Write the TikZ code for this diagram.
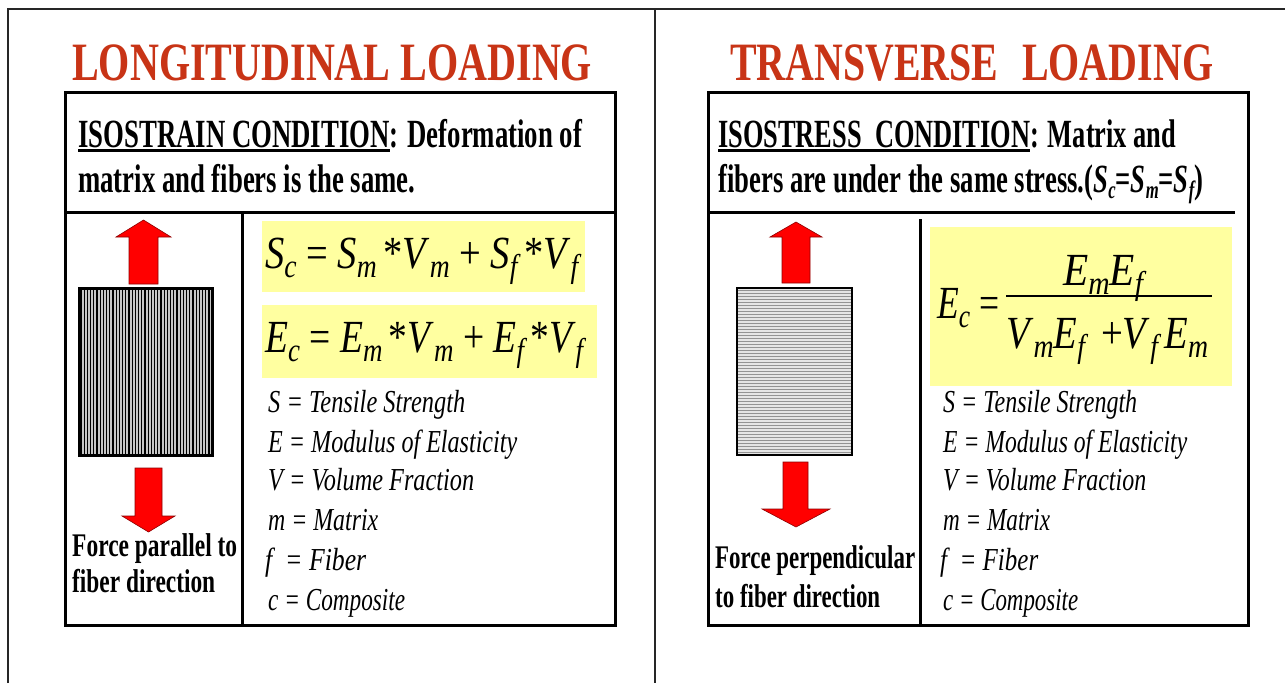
\documentclass[tikz,border=0pt]{standalone}
\usepackage{fontspec}
\setmainfont{Liberation Serif}
\usepackage{graphicx}
\definecolor{titlered}{RGB}{200,52,22}
\definecolor{eqyellow}{RGB}{255,255,160}
\definecolor{arrred}{RGB}{255,0,0}
\newsavebox\fitbx
\newsavebox\ulbox
\makeatletter
\newcommand\fitw[2]{\sbox\fitbx{#2}\dimen@=\wd\fitbx\pgfmathsetmacro\fitr{#1/\strip@pt\dimen@}\scalebox{\fitr}[1]{\usebox\fitbx}}
\makeatother
\newcommand\ulx[1]{\sbox\ulbox{#1}\rlap{\rule[-4.5pt]{\wd\ulbox}{2.4pt}}\usebox\ulbox}
\newcommand\sbe[1]{\raisebox{-9pt}{\fontsize{33}{33}\selectfont\itshape #1}}
\newcommand\sbh[1]{\raisebox{-6pt}{\fontsize{25}{25}\selectfont\itshape #1}}
\tikzset{
  ttl/.style={anchor=base west, inner sep=0pt, text=titlered, font=\fontsize{54}{54}\selectfont\bfseries},
  hdr/.style={anchor=base west, inner sep=0pt, font=\fontsize{40}{40}\selectfont\bfseries},
  frc/.style={anchor=base west, inner sep=0pt, font=\fontsize{33}{33}\selectfont\bfseries},
  leg/.style={anchor=base west, inner sep=0pt, font=\fontsize{32}{32}\selectfont\itshape},
  eqn/.style={anchor=base west, inner sep=0pt, font=\fontsize{46}{46}\selectfont},
  outer/.style={line width=2pt, black!85},
  frame/.style={line width=3pt, black},
  ybox/.style={fill=eqyellow, draw=none},
  blockarrow/.style={fill=arrred, draw=red!55!black, line width=0.6pt, line join=miter},
}
\begin{document}
\begin{tikzpicture}[x=1pt,y=-1pt]
\useasboundingbox (0,0) rectangle (1285,683);
% outer table lines
\draw[outer] (8,683) -- (8,9) -- (1285,9);
\draw[outer] (655,9) -- (655,683);

% ================= LEFT PANEL =================
\node[ttl] (ltitle) at (72,80) {\fitw{520}{LONGITUDINAL LOADING}};
\draw[frame] (65,92) rectangle (615,625);
\draw[frame] (65,212) -- (615,212);
\draw[frame] (242,212) -- (242,625);
\node[hdr] (lh1) at (78,147) {\fitw{504}{\ulx{ISOSTRAIN CONDITION}: Deformation of}};
\node[hdr] (lh2) at (78,192) {\fitw{337}{matrix and fibers is the same.}};

% arrows and fibre block
\draw[blockarrow] (143.5,220) -- (171,237) -- (158,237) -- (158,284) -- (129,284) -- (129,237) -- (116,237) -- cycle;
\fill[gray!45] (79,288) rectangle (212,455);
\foreach \x in {81,84.2,...,211} \draw[black, line width=1.3pt] (\x,288) -- (\x,455);
\draw[line width=3pt] (79,288) rectangle (212,455);
\draw[blockarrow] (148.5,532) -- (175,516) -- (162,516) -- (162,468) -- (135,468) -- (135,516) -- (122,516) -- cycle;
\node[frc] (lf1) at (72,556) {\fitw{165}{Force parallel to}};
\node[frc] (lf2) at (72,592) {\fitw{143}{fiber direction}};

% equations
\fill[ybox] (262,221) rectangle (585,292);
\fill[ybox] (262,305) rectangle (597,378);
\node[eqn] (leq1) at (265,268) {\fitw{313}{\textit{S}\sbe{c} = \textit{S}\sbe{m}\,*\textit{V}\sbe{m} + \textit{S}\sbe{f}\,*\textit{V}\sbe{f}}};
\node[eqn] (leq2) at (265,352) {\fitw{318}{\textit{E}\sbe{c} = \textit{E}\sbe{m}\,*\textit{V}\sbe{m} + \textit{E}\sbe{f}\,*\textit{V}\sbe{f}}};

% legend
\node[leg] (ll1) at (268,412) {\fitw{197}{S = Tensile Strength}};
\node[leg] (ll2) at (268,452) {\fitw{249}{E = Modulus of Elasticity}};
\node[leg] (ll3) at (268,490) {\fitw{206}{V = Volume Fraction}};
\node[leg] (ll4) at (268,530) {\fitw{110}{m = Matrix}};
\node[leg] (ll5) at (265,570) {\fitw{101}{f\ \ = Fiber}};
\node[leg] (ll6) at (268,610) {\fitw{137}{c = Composite}};

% ================= RIGHT PANEL =================
\node[ttl] (rtitle1) at (730,80) {\fitw{268}{TRANSVERSE}};
\node[ttl] (rtitle2) at (1022,80) {\fitw{191}{LOADING}};
\draw[frame] (708,92) rectangle (1248,625);
\draw[frame] (708,212) -- (1235,212);
\draw[frame] (920,219) -- (920,625);
\node[hdr] (rh1) at (718,147) {\fitw{458}{\ulx{ISOSTRESS\ \ CONDITION}: Matrix and}};
\node[hdr] (rh2) at (718,192) {\fitw{485}{fibers are under the same stress.(\textit{S}\sbh{c}=\textit{S}\sbh{m}=\textit{S}\sbh{f})}};

\draw[blockarrow] (796,222) -- (822,237) -- (810,237) -- (810,283) -- (782,283) -- (782,237) -- (770,237) -- cycle;
\fill[gray!20] (737,288) rectangle (852,455);
\foreach \y in {290.5,293.5,...,454} \draw[gray!85, line width=1.3pt] (737,\y) -- (852,\y);
\draw[line width=2.5pt] (737,288) rectangle (852,455);
\draw[blockarrow] (796,527) -- (830,509) -- (808,509) -- (808,462) -- (783,462) -- (783,509) -- (762,509) -- cycle;
\node[frc] (rf1) at (715,568) {\fitw{200}{Force perpendicular}};
\node[frc] (rf2) at (715,607) {\fitw{165}{to fiber direction}};

\fill[ybox] (930,227) rectangle (1232,386);
\node[eqn] (req) at (937,318) {\fitw{62}{\textit{E}\sbe{c} =}};
\node[eqn] (rnum) at (1063,285) {\fitw{80}{\textit{E}\sbe{m}\textit{E}\sbe{f}}};
\node[eqn] (rden) at (1006,348) {\fitw{202}{\textit{V}\sbe{m}\textit{E}\sbe{f}\, +\textit{V}\sbe{f}\,\textit{E}\sbe{m}}};
\draw[line width=2.2pt] (1006,296) -- (1212,296);

\node[leg] (rl1) at (943,412) {\fitw{194}{S = Tensile Strength}};
\node[leg] (rl2) at (943,452) {\fitw{244}{E = Modulus of Elasticity}};
\node[leg] (rl3) at (943,490) {\fitw{203}{V = Volume Fraction}};
\node[leg] (rl4) at (943,530) {\fitw{107}{m = Matrix}};
\node[leg] (rl5) at (940,570) {\fitw{98}{f\ \ = Fiber}};
\node[leg] (rl6) at (943,610) {\fitw{135}{c = Composite}};
\end{tikzpicture}
\end{document}
